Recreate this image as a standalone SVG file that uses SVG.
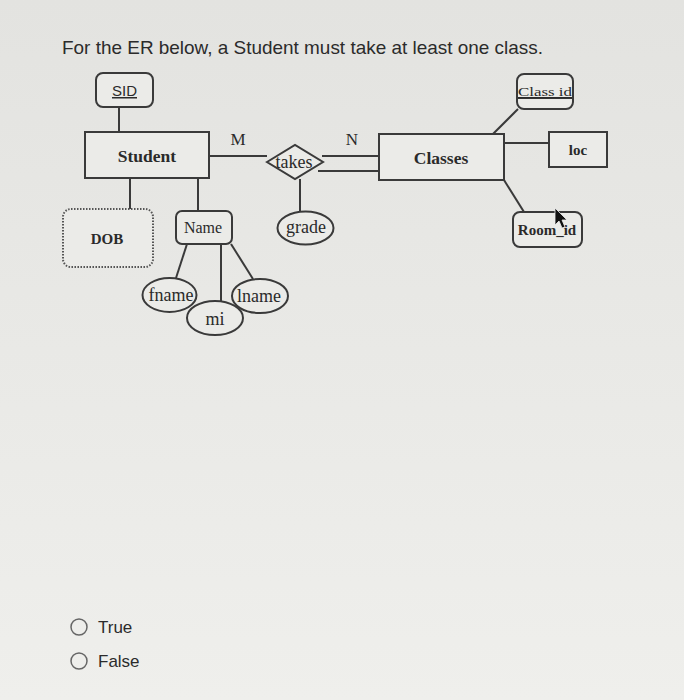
<svg xmlns="http://www.w3.org/2000/svg" width="684" height="700" viewBox="0 0 684 700">
<defs>
<linearGradient id="bg" x1="0" y1="0" x2="0" y2="1">
<stop offset="0" stop-color="#e3e3e0"/>
<stop offset="0.5" stop-color="#e9e9e6"/>
<stop offset="1" stop-color="#efefec"/>
</linearGradient>
<style>
.box{fill:#ebebe8;stroke:#3a3a3a;stroke-width:2}
.ln{stroke:#3a3a3a;stroke-width:2;fill:none}
.t{font-family:"Liberation Serif",serif;fill:#2a2a2a;text-anchor:middle}
.b{font-weight:bold}
.q{font-family:"Liberation Sans",Arial,sans-serif;fill:#2b2b2b}
</style>
</defs>
<rect width="684" height="700" fill="url(#bg)"/>
<text class="q" x="62" y="54" font-size="18.5" textLength="481" lengthAdjust="spacingAndGlyphs">For the ER below, a Student must take at least one class.</text>

<g id="connectors">
<line class="ln" x1="119" y1="107" x2="119" y2="132"/>
<line class="ln" x1="209" y1="156" x2="267" y2="156"/>
<line class="ln" x1="322" y1="156" x2="379" y2="156"/>
<line class="ln" x1="318" y1="171" x2="379" y2="171"/>
<line class="ln" x1="130" y1="178" x2="130" y2="210"/>
<line class="ln" x1="198" y1="178" x2="198" y2="211"/>
<line class="ln" x1="300" y1="179" x2="300" y2="212"/>
<line class="ln" x1="493" y1="134" x2="518" y2="109"/>
<line class="ln" x1="504" y1="143" x2="549" y2="143"/>
<line class="ln" x1="504" y1="180" x2="524" y2="212"/>
<line class="ln" x1="187" y1="244" x2="176" y2="278"/>
<line class="ln" x1="221" y1="244" x2="221" y2="302"/>
<line class="ln" x1="231" y1="244" x2="253" y2="279"/>
<text class="t" x="238" y="145" font-size="17">M</text>
<text class="t" x="352" y="145" font-size="17">N</text>
</g>

<g id="SID">
<rect class="box" x="96" y="73" width="57" height="34" rx="7"/>
<text class="q" x="124.5" y="96" font-size="15" text-anchor="middle" text-decoration="underline">SID</text>
</g>
<g id="Student">
<rect class="box" x="85" y="132" width="124" height="46"/>
<text class="t b" x="147" y="162" font-size="17.5">Student</text>
</g>
<g id="takes">
<polygon class="box" points="267,162 295,145 323,162 295,179"/>
<text class="t" x="294" y="168" font-size="18">takes</text>
</g>
<g id="Classes">
<rect class="box" x="379" y="134" width="125" height="46"/>
<text class="t b" x="441" y="164" font-size="17.5">Classes</text>
</g>
<g id="Class_id">
<rect class="box" x="517" y="74" width="56" height="35" rx="7"/>
<line class="ln" x1="517" y1="98" x2="573" y2="98" stroke-width="1.5"/>
<text class="t" x="545" y="96" font-size="13" textLength="54" lengthAdjust="spacingAndGlyphs" text-decoration="underline">Class  id</text>
</g>
<g id="loc">
<rect class="box" x="549" y="132" width="58" height="35"/>
<text class="t b" x="578" y="155" font-size="15">loc</text>
</g>
<g id="Room_id">
<rect class="box" x="513" y="212" width="69" height="35" rx="7"/>
<text class="t b" x="547" y="235" font-size="15">Room_id</text>
</g>
<g id="DOB">
<rect x="63" y="209" width="90" height="58" rx="8" fill="#ebebe8" stroke="#555" stroke-width="2" stroke-dasharray="1.5,1.5"/>
<text class="t b" x="107" y="244" font-size="15">DOB</text>
</g>
<g id="Name">
<rect class="box" x="176" y="211" width="56" height="33" rx="6"/>
<text class="t" x="203" y="233" font-size="16">Name</text>
</g>
<g id="grade">
<ellipse class="box" cx="305.5" cy="228" rx="28" ry="16.5"/>
<text class="t" x="306" y="233" font-size="18">grade</text>
</g>
<g id="fname">
<ellipse class="box" cx="169.5" cy="295" rx="27" ry="17"/>
<text class="t" x="171" y="301" font-size="18">fname</text>
</g>
<g id="lname">
<ellipse class="box" cx="260" cy="296" rx="28" ry="17"/>
<text class="t" x="259" y="302" font-size="18">lname</text>
</g>
<g id="mi">
<ellipse class="box" cx="215" cy="318" rx="28" ry="17"/>
<text class="t" x="215" y="325" font-size="18">mi</text>
</g>

<polygon points="555,208 555,225 559,221 562,228 565,227 562,220 567,220" fill="#111" stroke="#eee" stroke-width="0.8"/>

<g id="answers">
<circle cx="79" cy="627" r="8" fill="none" stroke="#666" stroke-width="1.5"/>
<text class="q" x="98" y="633" font-size="17">True</text>
<circle cx="79" cy="661" r="8" fill="none" stroke="#666" stroke-width="1.5"/>
<text class="q" x="98" y="667" font-size="17">False</text>
</g>
</svg>
